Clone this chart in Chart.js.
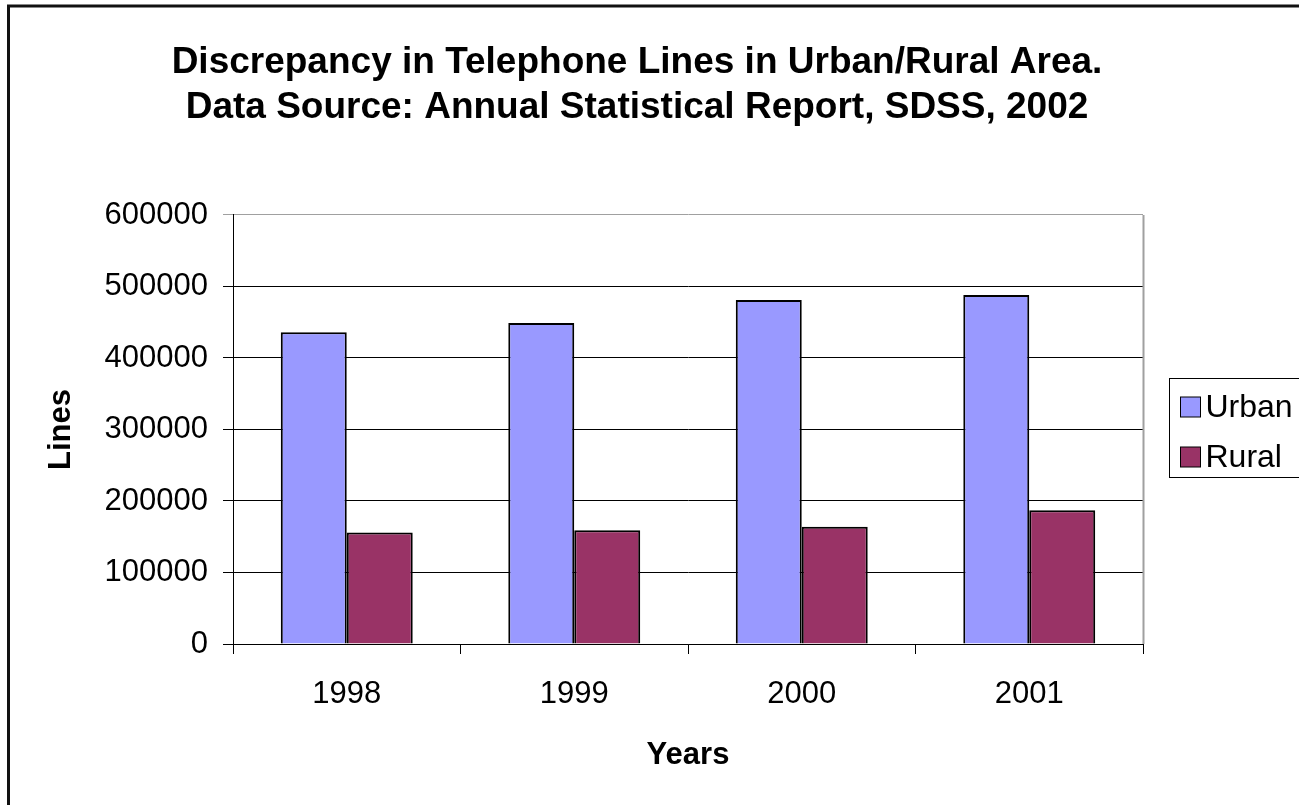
<!DOCTYPE html>
<html>
<head>
<meta charset="utf-8">
<script src="https://cdn.jsdelivr.net/npm/chart.js@4/dist/chart.umd.min.js"></script>
<style>
  html, body { margin: 0; padding: 0; background: #fff; }
  #wrap { width: 1299px; height: 805px; }
</style>
</head>
<body>
<div id="wrap"><canvas id="bar-chart" width="1299" height="805"></canvas></div>
<script>
// data
const years = ['1998', '1999', '2000', '2001'];
const urban = [436000, 449000, 481000, 488000];
const rural = [156000, 159000, 164000, 187000];
const seriesNames = ['Urban', 'Rural'];
const titleLines = ['Discrepancy in Telephone Lines in Urban/Rural Area.', 'Data Source: Annual Statistical Report, SDSS, 2002'];

const FONT = "'Liberation Sans', Arial, sans-serif";

// white page, thick frame, gray right plot edge
const framePlugin = {
  id: 'frame',
  beforeDraw(chart) {
    const c = chart.ctx;
    c.save();
    c.fillStyle = '#fff';
    c.fillRect(0, 0, chart.width, chart.height);
    c.strokeStyle = '#111';
    c.lineWidth = 3;
    c.strokeRect(8.5, 6, 3000, 3000);
    c.restore();
  },
  beforeDatasetsDraw(chart) {
    const a = chart.chartArea;
    const c = chart.ctx;
    c.save();
    c.strokeStyle = '#a0a0a0';
    c.lineWidth = 2;
    c.beginPath();
    c.moveTo(Math.round(a.right) + 0.5, a.top);
    c.lineTo(Math.round(a.right) + 0.5, a.bottom);
    c.stroke();
    c.restore();
  }
};

// boxed legend to the right of the plot
const boxLegend = {
  id: 'boxLegend',
  afterDraw(chart) {
    const a = chart.chartArea;
    const c = chart.ctx;
    const x0 = Math.round(a.right) + 26.5;
    const y0 = 378.5;
    c.save();
    c.strokeStyle = '#000';
    c.lineWidth = 1;
    c.strokeRect(x0, y0, 300, 99);
    c.font = '32px ' + FONT;
    c.textBaseline = 'middle';
    chart.data.datasets.forEach((ds, i) => {
      const cy = y0 + 28.5 + i * 50;
      c.fillStyle = ds.backgroundColor;
      c.fillRect(x0 + 11, cy - 10, 20, 20);
      c.strokeRect(x0 + 11, cy - 10, 20, 20);
      c.fillStyle = '#000';
      c.fillText(ds.label, x0 + 36, cy + 1);
    });
    c.restore();
  }
};

const config = {
  type: 'bar',
  data: {
    labels: years,
    datasets: [
      { label: seriesNames[0], data: urban, backgroundColor: '#9999FF', borderColor: '#000', borderWidth: 2 },
      { label: seriesNames[1], data: rural, backgroundColor: '#993366', borderColor: '#000', borderWidth: 2 }
    ]
  },
  options: {
    responsive: false,
    animation: false,
    layout: { padding: { left: 0, right: 25, top: 0, bottom: 0 } },
    datasets: { bar: { categoryPercentage: 0.58, barPercentage: 1 } },
    plugins: {
      legend: { display: false },
      tooltip: { enabled: false },
      title: {
        display: true,
        text: titleLines,
        color: '#000',
        font: { family: FONT, size: 37, weight: 'bold', lineHeight: 1.216 },
        padding: { top: 40, bottom: 85 }
      }
    },
    scales: {
      x: {
        grid: { offset: true, drawOnChartArea: false, drawTicks: true, tickLength: 10, color: '#000', lineWidth: 1 },
        border: { display: true, color: '#000', width: 1 },
        ticks: { color: '#000', font: { family: FONT, size: 31 }, padding: 22 },
        title: {
          display: true, text: 'Years', color: '#000',
          font: { family: FONT, size: 31, weight: 'bold' },
          padding: { top: 0, bottom: 31 }
        },
        afterFit(scale) { scale.height = 161; }
      },
      y: {
        min: 0, max: 600000,
        grid: {
          tickLength: 10, lineWidth: 1,
          color: ctx => (ctx.tick && ctx.tick.value === 600000) ? '#a0a0a0' : '#000'
        },
        border: { display: true, color: '#000', width: 1 },
        ticks: {
          stepSize: 100000, color: '#000', font: { family: FONT, size: 31 }, padding: 15,
          callback: v => String(v)
        },
        title: {
          display: true, text: 'Lines', color: '#000',
          font: { family: FONT, size: 31, weight: 'bold' },
          padding: { top: 43, bottom: 0 }
        },
        afterFit(scale) { scale.width = 233; }
      },
      // empty right-hand strip that holds the legend
      side: {
        type: 'linear', position: 'right', display: true,
        grid: { display: false }, border: { display: false }, ticks: { display: false },
        afterFit(scale) { scale.width = 131; }
      }
    }
  },
  plugins: [framePlugin, boxLegend]
};

window.onload = function() {
  const ctx = document.getElementById('bar-chart').getContext('2d');
  window.myBar = new Chart(ctx, config);
};
</script>
</body>
</html>
